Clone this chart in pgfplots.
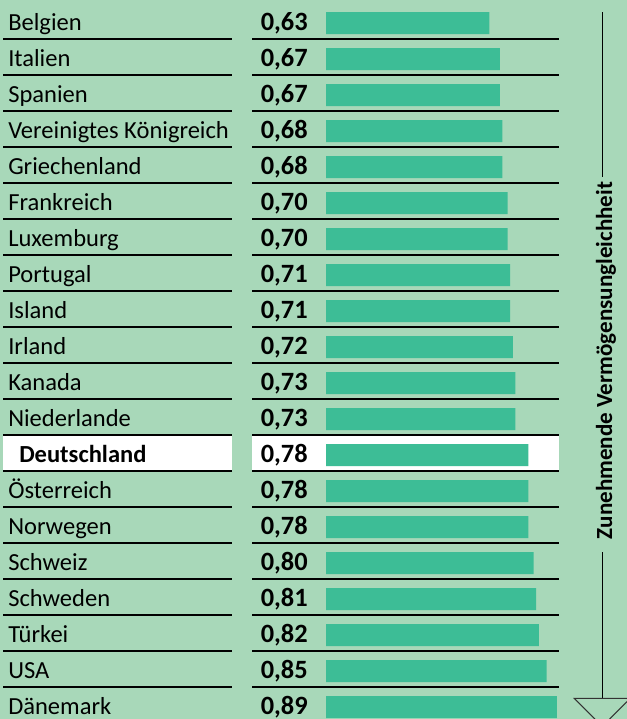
\documentclass[border=0pt]{standalone}
\usepackage{pgfplots}
\pgfplotsset{compat=1.18}
\usepackage{pgfplotstable}
\usepackage{fontspec}
\setmainfont{Carlito}
\definecolor{bg}{RGB}{168,216,185}
\definecolor{barc}{RGB}{61,189,150}
\newcommand{\namefont}{\fontsize{18.4pt}{21pt}\selectfont}
\newcommand{\valfont}{\fontsize{19.8pt}{22pt}\selectfont\bfseries}
\newcommand{\arrfont}{\fontsize{17.3pt}{20pt}\selectfont\bfseries}

\pgfplotstableread[col sep=comma]{
i,name,v
0,Belgien,0.63
1,Italien,0.67
2,Spanien,0.67
3,Vereinigtes Königreich,0.68
4,Griechenland,0.68
5,Frankreich,0.70
6,Luxemburg,0.70
7,Portugal,0.71
8,Island,0.71
9,Irland,0.72
10,Kanada,0.73
11,Niederlande,0.73
12,Deutschland,0.78
13,Österreich,0.78
14,Norwegen,0.78
15,Schweiz,0.80
16,Schweden,0.81
17,Türkei,0.82
18,USA,0.85
19,Dänemark,0.89
}\data

\begin{document}
\begin{tikzpicture}
\begin{axis}[
  scale only axis, width=470.25pt, height=539.25pt,
  xmin=-326, xmax=301, ymin=0, ymax=719, y dir=reverse,
  axis line style={draw=none}, xtick=\empty, ytick=\empty,
  axis background/.style={fill=bg},
  clip=true,
]
% highlight Deutschland row
\fill[white] (axis cs:-323,436) rectangle (axis cs:-94,471);
\fill[white] (axis cs:-74,436) rectangle (axis cs:233,471);

% bars
\addplot[xbar, fill=barc, draw=none, bar width=22]
  table[x expr=259.5*\thisrow{v}, y expr=23+36*\thisrow{i}] {\data};

% country names
\addplot[draw=none, no markers, nodes near coords, point meta=explicit symbolic,
  skip coords between index={12}{13},
  nodes near coords style={anchor=base west, inner sep=0pt, font=\namefont, text=black}]
  table[x expr=-318, y expr=30+36*\thisrow{i}, meta=name] {\data};
\addplot[draw=none, no markers, nodes near coords, point meta=explicit symbolic,
  nodes near coords style={anchor=base west, inner sep=0pt, font=\namefont\bfseries, text=black}]
  coordinates {(-307,462) [Deutschland]};

% values
\addplot[draw=none, no markers,
  nodes near coords={\pgfmathprintnumber[fixed,fixed zerofill,precision=2,use comma,assume math mode=true]{\pgfplotspointmeta}},
  point meta=explicit,
  nodes near coords style={anchor=base west, inner sep=0pt, font=\valfont, text=black}]
  table[x expr=-65.5, y expr=30+36*\thisrow{i}, meta=v] {\data};

% row separators
\pgfplotsinvokeforeach{0,...,18}{
  \draw[black, line width=1.2pt] (axis cs:-323,{39+36*#1}) -- (axis cs:-94,{39+36*#1});
  \draw[black, line width=1.2pt] (axis cs:-74,{39+36*#1}) -- (axis cs:233,{39+36*#1});
}

% arrow
\draw[black, line width=1.2pt] (axis cs:276.3,12) -- (axis cs:276.3,177);
\draw[black, line width=1.2pt] (axis cs:276.3,552) -- (axis cs:276.3,698.3);
\draw[black!80, line width=0.8pt] (axis cs:269,719) -- (axis cs:248.3,698.3) -- (axis cs:301,698.3);
\draw[black!80, line width=0.8pt] (axis cs:301,701.6) -- (axis cs:283.6,719);
\node[rotate=90, anchor=base, inner sep=0pt, font=\arrfont, text=black] at (axis cs:286,360.5) {Zunehmende Vermögensungleichheit};
\end{axis}
\end{tikzpicture}
\end{document}
